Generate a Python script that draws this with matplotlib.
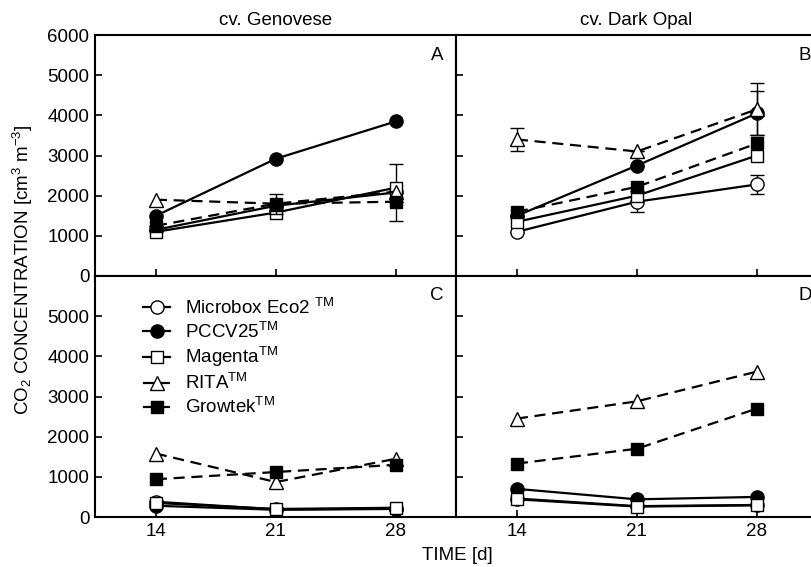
import matplotlib
matplotlib.use("Agg")
import matplotlib.pyplot as plt
import numpy as np

plt.rcParams['font.family'] = ['Liberation Sans', 'DejaVu Sans']
plt.rcParams['mathtext.fontset'] = 'custom'
plt.rcParams['mathtext.rm'] = 'Liberation Sans'
plt.rcParams['mathtext.it'] = 'Liberation Sans'

FS = 13.5

days = [14, 21, 28]
series_names = ["Microbox Eco2 $^{\\mathrm{TM}}$", "PCCV25$^{\\mathrm{TM}}$", "Magenta$^{\\mathrm{TM}}$",
                "RITA$^{\\mathrm{TM}}$", "Growtek$^{\\mathrm{TM}}$"]
panel_titles = ["cv. Genovese", "cv. Dark Opal"]
panel_letters = ["A", "B", "C", "D"]
yticks_top = [0, 1000, 2000, 3000, 4000, 5000, 6000]
yticks_bottom = [0, 1000, 2000, 3000, 4000, 5000]

# Panel A (Genovese, top)
a_microbox = [1150, 1750, 2080]
a_pccv = [1500, 2920, 3850]
a_magenta = [1100, 1580, 2200]
a_rita = [1900, 1800, 2100]
a_growtek = [1250, 1800, 1850]
a_microbox_err = [0, 0, 700]
a_growtek_err = [0, 250, 0]

# Panel B (Dark Opal, top)
b_microbox = [1100, 1850, 2280]
b_pccv = [1500, 2750, 4050]
b_magenta = [1350, 2000, 3000]
b_rita = [3400, 3100, 4150]
b_growtek = [1600, 2220, 3300]
b_microbox_err = [0, 260, 230]
b_rita_err = [290, 0, 650]
b_pccv_err = [0, 0, 550]

# Panel C (Genovese, bottom)
c_microbox = [380, 190, 210]
c_pccv = [280, 180, 200]
c_magenta = [350, 200, 230]
c_rita = [1580, 870, 1450]
c_growtek = [940, 1120, 1300]

# Panel D (Dark Opal, bottom)
d_microbox = [460, 270, 300]
d_pccv = [700, 440, 500]
d_magenta = [440, 260, 290]
d_rita = [2450, 2880, 3620]
d_growtek = [1330, 1700, 2700]

styles = [
    dict(marker='o', mfc='white', mec='black', ls='-', ms=9.5),
    dict(marker='o', mfc='black', mec='black', ls='-', ms=9.5),
    dict(marker='s', mfc='white', mec='black', ls='-', ms=9),
    dict(marker='^', mfc='white', mec='black', ls=(0, (5, 3)), ms=10),
    dict(marker='s', mfc='black', mec='black', ls=(0, (5, 3)), ms=9),
]

panels = [
    ([a_microbox, a_pccv, a_magenta, a_rita, a_growtek],
     [a_microbox_err, None, None, None, a_growtek_err]),
    ([b_microbox, b_pccv, b_magenta, b_rita, b_growtek],
     [b_microbox_err, b_pccv_err, None, b_rita_err, None]),
    ([c_microbox, c_pccv, c_magenta, c_rita, c_growtek],
     [None, None, None, None, None]),
    ([d_microbox, d_pccv, d_magenta, d_rita, d_growtek],
     [None, None, None, None, None]),
]

W, H = 812, 567
fig = plt.figure(figsize=(W / 100, H / 100), dpi=100)
left, mid, right = 95 / W, 456 / W, 817 / W
top, center, bottom = 1 - 35 / H, 1 - 276 / H, 1 - 517 / H
positions = [
    [left, center, mid - left, top - center],
    [mid, center, right - mid, top - center],
    [left, bottom, mid - left, center - bottom],
    [mid, bottom, right - mid, center - bottom],
]

axes = []
for i, pos in enumerate(positions):
    ax = fig.add_axes(pos)
    axes.append(ax)
    vals, errs = panels[i]
    for k in range(5):
        st = styles[k]
        e = errs[k]
        ax.errorbar(days, vals[k], yerr=e if e is not None else None,
                    color='black', lw=1.6, marker=st['marker'], ms=st['ms'],
                    mfc=st['mfc'], mec=st['mec'], mew=1.0, ls=st['ls'],
                    ecolor='black', elinewidth=1.0, capsize=5, capthick=1.0,
                    label=series_names[k], zorder=3 + k * 0.1)
    ax.set_xlim(10.45, 31.5)
    ax.set_ylim(0, 6000)
    ax.set_xticks(days)
    ax.tick_params(direction='in', length=5, width=1.2, labelsize=FS, pad=4)
    for sp in ax.spines.values():
        sp.set_linewidth(1.5)
    if i in (0, 2):
        ax.set_yticks(yticks_top if i == 0 else yticks_bottom)
    else:
        ax.set_yticks(yticks_bottom[1:])
        ax.set_yticklabels([])
    if i in (0, 1):
        ax.set_xticklabels([])
        ax.set_title(panel_titles[i], fontsize=FS, pad=7)
    ax.text(1 - 19 / 361 if i in (0, 2) else 349 / 361, 1 - 20 / 241, panel_letters[i],
            transform=ax.transAxes, ha='center', va='center', fontsize=FS)

leg = axes[2].legend(loc='upper left', bbox_to_anchor=(48 / 361, 0.91), frameon=False,
                     fontsize=FS, handlelength=1.45, handletextpad=0.8,
                     labelspacing=0.2, borderaxespad=0.0, borderpad=0.0)

fig.text(23 / W, 1 - 270 / H, "CO$_2$ CONCENTRATION [cm$^3$ m$^{-3}$]",
         rotation=90, ha='center', va='center', fontsize=FS)
fig.text(457 / W, 1 - 555 / H, "TIME [d]", ha='center', va='center', fontsize=FS)

fig.savefig("out.png", dpi=100)
